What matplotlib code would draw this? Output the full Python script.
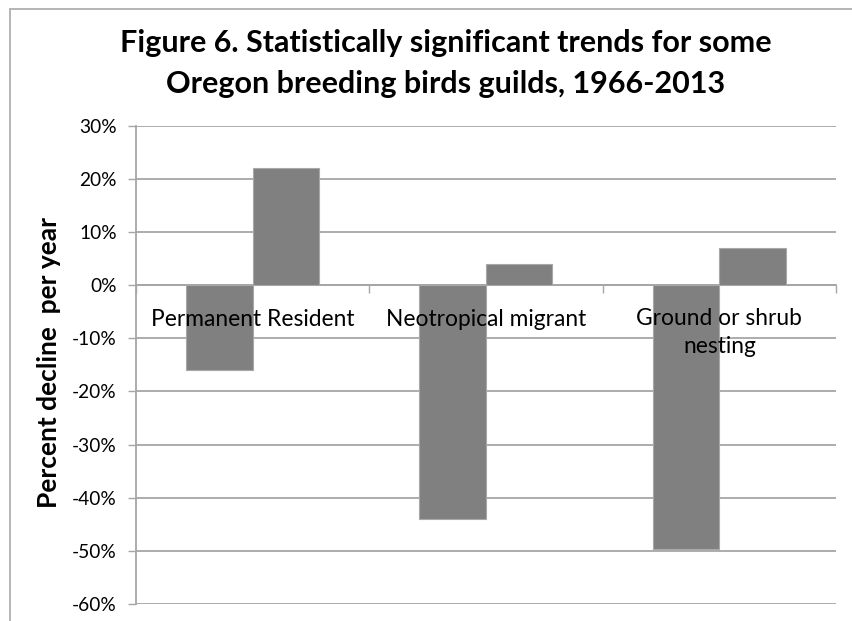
import matplotlib
matplotlib.use("Agg")
import matplotlib.pyplot as plt
from matplotlib.patches import Rectangle
from matplotlib.ticker import FuncFormatter, FixedLocator
import numpy as np

categories = ["Permanent Resident", "Neotropical migrant", "Ground or shrub\nnesting"]
declines = [-16, -44, -49.6]
increases = [22, 4, 7]
y_ticks = [30, 20, 10, 0, -10, -20, -30, -40, -50, -60]

plt.rcParams['font.family'] = ['Lato', 'DejaVu Sans']

W, H = 853, 621
fig = plt.figure(figsize=(W / 100, H / 100), dpi=100)
ax = fig.add_axes([136 / W, 1 - 604 / H, 700 / W, (604 - 125.7) / H])

grid_c = '#a6a6a6'
bar_c = '#808080'
x = np.arange(len(categories))
bw = 0.285
ax.bar(x - bw / 2, declines, width=bw, color=bar_c, edgecolor='#a8a8a8', linewidth=0.8, zorder=3)
ax.bar(x + bw / 2, increases, width=bw, color=bar_c, edgecolor='#a8a8a8', linewidth=0.8, zorder=3)

ax.set_xlim(-0.5, len(categories) - 0.5)
ax.set_ylim(-60, 30)
ax.set_yticks(y_ticks)
ax.yaxis.set_major_formatter(FuncFormatter(lambda v, p: f"{int(round(v))}%"))
ax.grid(axis='y', color=grid_c, linewidth=1.3, zorder=0)

for s in ['top', 'right']:
    ax.spines[s].set_visible(False)
ax.spines['left'].set_color(grid_c)
ax.spines['left'].set_linewidth(1.3)
ax.spines['bottom'].set_position(('data', 0))
ax.spines['bottom'].set_color(grid_c)
ax.spines['bottom'].set_linewidth(1.3)

ax.tick_params(axis='y', length=5.8, width=1.0, color=grid_c, labelsize=13.8, pad=8, labelcolor='#000000')
ax.xaxis.set_major_locator(FixedLocator(np.arange(len(categories) + 1) - 0.5))
ax.xaxis.set_major_formatter(FuncFormatter(lambda v, p: ""))
ax.tick_params(axis='x', which='major', length=5.8, width=1.0, color=grid_c, direction='out')

# category labels: first baseline ~41px below the zero line, line pitch ~27px
first_base = -7.77
pitch = 5.02
for xi, lab in zip(x, categories):
    n = lab.count("\n") + 1
    ax.text(xi, first_base - (n - 1) * pitch, lab, ha='center', va='baseline', fontsize=16.4,
            linespacing=1.4, zorder=6)

fig.text(49 / W, 1 - 362 / H, "Percent decline  per year", rotation=90,
         ha='center', va='center', fontsize=19, fontweight='bold')

fig.text(446 / W, 1 - 52 / H, "Figure 6. Statistically significant trends for some",
         ha='center', va='baseline', fontsize=22, fontweight='bold')
fig.text(446 / W, 1 - 93 / H, "Oregon breeding birds guilds, 1966-2013",
         ha='center', va='baseline', fontsize=22, fontweight='bold')

fig.add_artist(Rectangle((10 / W, -0.1), 1.2, 1.1 - 9 / H, transform=fig.transFigure,
                         fill=False, edgecolor='#b0b0b0', linewidth=1.3, clip_on=False))

fig.savefig("out.png", dpi=100)
